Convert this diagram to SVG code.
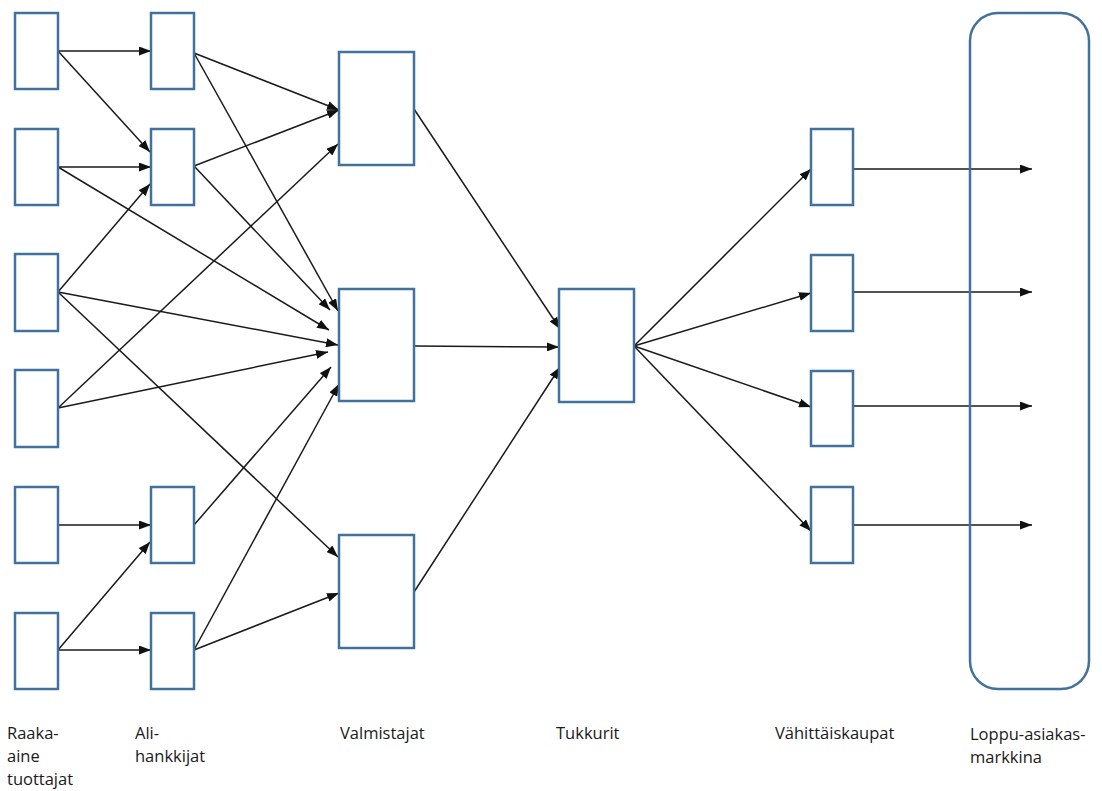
<svg xmlns="http://www.w3.org/2000/svg" width="1102" height="791" viewBox="0 0 1102 791">
  <defs>
    <marker id="arrow" markerUnits="userSpaceOnUse" markerWidth="12" markerHeight="9" refX="12" refY="4.5" orient="auto">
      <path d="M0,0 L12,4.5 L0,9 z" fill="#111"/>
    </marker>
    <style>
      .box { fill: #ffffff; stroke: #41719C; stroke-width: 2.5; }
      .edge { stroke: #1a1a1a; stroke-width: 1.5; fill: none; marker-end: url(#arrow); }
      .lbl { font-family: "Open Sans", "Liberation Sans", sans-serif; font-size: 16.5px; fill: #1a1a1a; }
    </style>
  </defs>
  <rect width="1102" height="791" fill="#ffffff"/>

  <!-- connectors -->
  <g id="connectors">
    <!-- raw material producers -> subcontractors -->
    <line class="edge" x1="58" y1="51" x2="151" y2="51"/>
    <line class="edge" x1="58" y1="51" x2="150" y2="152"/>
    <line class="edge" x1="58" y1="167" x2="151" y2="167"/>
    <line class="edge" x1="58" y1="292" x2="150" y2="184"/>
    <line class="edge" x1="58" y1="525" x2="151" y2="525"/>
    <line class="edge" x1="58" y1="650" x2="150" y2="542"/>
    <line class="edge" x1="58" y1="650" x2="151" y2="650"/>
    <!-- raw material producers -> manufacturers -->
    <line class="edge" x1="58" y1="167" x2="329" y2="330"/>
    <line class="edge" x1="58" y1="292" x2="338" y2="345"/>
    <line class="edge" x1="58" y1="292" x2="338" y2="557"/>
    <line class="edge" x1="58" y1="408" x2="338" y2="144"/>
    <line class="edge" x1="58" y1="408" x2="328" y2="352"/>
    <!-- subcontractors -> manufacturers -->
    <line class="edge" x1="194" y1="53" x2="339" y2="110"/>
    <line class="edge" x1="194" y1="166" x2="339" y2="110"/>
    <line class="edge" x1="194" y1="53" x2="338" y2="311"/>
    <line class="edge" x1="194" y1="166" x2="330" y2="310"/>
    <line class="edge" x1="194" y1="525" x2="331" y2="367"/>
    <line class="edge" x1="194" y1="650" x2="339" y2="384"/>
    <line class="edge" x1="194" y1="650" x2="339" y2="593"/>
    <!-- manufacturers -> wholesalers -->
    <line class="edge" x1="414" y1="109" x2="560" y2="329"/>
    <line class="edge" x1="414" y1="346" x2="559" y2="347"/>
    <line class="edge" x1="414" y1="592" x2="560" y2="367"/>
    <!-- wholesalers -> retailers -->
    <line class="edge" x1="634" y1="346" x2="811" y2="169"/>
    <line class="edge" x1="634" y1="346" x2="811" y2="293"/>
    <line class="edge" x1="634" y1="346" x2="811" y2="407"/>
    <line class="edge" x1="634" y1="346" x2="811" y2="531"/>
    <!-- retailers -> end-customer market -->
    <line class="edge" x1="853" y1="169" x2="1032" y2="169"/>
    <line class="edge" x1="853" y1="292" x2="1032" y2="292"/>
    <line class="edge" x1="853" y1="406" x2="1032" y2="406"/>
    <line class="edge" x1="853" y1="525" x2="1032" y2="525"/>
  </g>

  <!-- raw material producers -->
  <g id="raw1"><rect class="box" x="15" y="13" width="43" height="76"/></g>
  <g id="raw2"><rect class="box" x="15" y="129" width="43" height="76"/></g>
  <g id="raw3"><rect class="box" x="15" y="254" width="43" height="77"/></g>
  <g id="raw4"><rect class="box" x="15" y="370" width="43" height="77"/></g>
  <g id="raw5"><rect class="box" x="15" y="487" width="43" height="76"/></g>
  <g id="raw6"><rect class="box" x="15" y="613" width="43" height="76"/></g>

  <!-- subcontractors -->
  <g id="sub1"><rect class="box" x="151" y="13" width="43" height="76"/></g>
  <g id="sub2"><rect class="box" x="151" y="129" width="43" height="76"/></g>
  <g id="sub3"><rect class="box" x="151" y="487" width="43" height="76"/></g>
  <g id="sub4"><rect class="box" x="151" y="613" width="43" height="76"/></g>

  <!-- manufacturers -->
  <g id="man1"><rect class="box" x="339" y="52" width="75" height="113"/></g>
  <g id="man2"><rect class="box" x="339" y="289" width="75" height="112"/></g>
  <g id="man3"><rect class="box" x="339" y="535" width="75" height="113"/></g>

  <!-- wholesaler -->
  <g id="wholesale"><rect class="box" x="559" y="289" width="75" height="113"/></g>

  <!-- retailers -->
  <g id="ret1"><rect class="box" x="811" y="129" width="42" height="76"/></g>
  <g id="ret2"><rect class="box" x="811" y="255" width="42" height="76"/></g>
  <g id="ret3"><rect class="box" x="811" y="371" width="42" height="75"/></g>
  <g id="ret4"><rect class="box" x="811" y="487" width="42" height="76"/></g>

  <!-- end-customer market (outline only, arrows run through it) -->
  <g id="market"><rect class="box" x="970" y="13" width="119" height="676" rx="28" ry="28" style="fill:none"/></g>

  <!-- column captions -->
  <g id="labels">
    <text class="lbl" x="7" y="739">Raaka-</text>
    <text class="lbl" x="7" y="762">aine</text>
    <text class="lbl" x="7" y="785">tuottajat</text>
    <text class="lbl" x="135" y="739">Ali-</text>
    <text class="lbl" x="135" y="762">hankkijat</text>
    <text class="lbl" x="340" y="739">Valmistajat</text>
    <text class="lbl" x="556" y="739">Tukkurit</text>
    <text class="lbl" x="775" y="739">Vähittäiskaupat</text>
    <text class="lbl" x="970" y="740">Loppu-asiakas-</text>
    <text class="lbl" x="970" y="763">markkina</text>
  </g>
</svg>
